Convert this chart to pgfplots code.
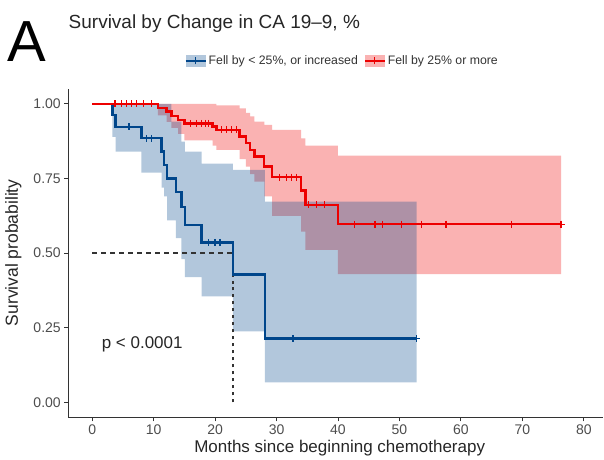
\documentclass[border=0pt]{standalone}
\usepackage{fontspec}
\setmainfont{Liberation Sans}
\usepackage{pgfplots}
\pgfplotsset{compat=1.18}
\usepgfplotslibrary{fillbetween}
\definecolor{kmred}{HTML}{ED0000}
\definecolor{kmblue}{HTML}{00468B}
\definecolor{axgray}{HTML}{4D4D4D}
\begin{document}
\begin{tikzpicture}
\path (-68.3pt,-42.3pt) rectangle (535.7pt,417.7pt);
\begin{axis}[
  at={(0pt,0pt)}, anchor=south west,
  width=535.7pt, height=328.6pt, scale only axis,
  xmin=-3.9, xmax=83.2, ymin=-0.05, ymax=1.05,
  axis x line*=bottom, axis y line*=left,
  axis line style={black!80, line width=1.1pt, -},
  xtick={0,10,...,80}, ytick={0,0.25,0.5,0.75,1},
  yticklabels={0.00,0.25,0.50,0.75,1.00},
  tick align=outside, major tick length=4pt,
  tick style={black!80, line width=0.9pt},
  ticklabel style={font=\fontsize{14}{16}\selectfont, text=axgray},
  /pgf/number format/assume math mode=true,
  legend style={at={(0.512,1.0855)}, anchor=center, draw=none, fill=none,
    font=\fontsize{12.3}{14}\selectfont, text=black!80,
    /tikz/every even column/.append style={column sep=4pt}},
  legend columns=2, legend cell align=left,
]
\addlegendimage{legend image code/.code={
  \path[fill=kmblue, fill opacity=0.3, draw=none] (0pt,-6pt) rectangle (20pt,6pt);
  \path[draw=kmblue, line width=2pt] (0pt,0pt) -- (20pt,0pt);
  \path[draw=kmblue, line width=1.2pt] (10pt,-3.5pt) -- (10pt,3.5pt);}}
\addlegendentry{Fell by < 25\%, or increased}
\addlegendimage{legend image code/.code={
  \path[fill=kmred, fill opacity=0.3, draw=none] (0pt,-6pt) rectangle (20pt,6pt);
  \path[draw=kmred, line width=2pt] (0pt,0pt) -- (20pt,0pt);
  \path[draw=kmred, line width=1.2pt] (10pt,-3.5pt) -- (10pt,3.5pt);}}
\addlegendentry{Fell by 25\% or more}

% red confidence band
\addplot[name path=ru, const plot, draw=none, forget plot] coordinates {
(0,1) (20.2,0.995) (24.0,0.985) (25.0,0.97) (25.7,0.958) (26.4,0.941) (28.0,0.93)
(29.3,0.913) (34.0,0.885) (34.7,0.860) (40.0,0.827) (76.3,0.827)};
\addplot[name path=rl, const plot, draw=none, forget plot] coordinates {
(0,1) (10.7,0.962) (12.1,0.94) (12.9,0.92) (14.0,0.90) (15.0,0.878) (19.6,0.86)
(20.2,0.846) (24.0,0.815) (25.0,0.79) (25.7,0.765) (26.4,0.74) (28.0,0.69)
(29.3,0.625) (34.0,0.572) (34.7,0.511) (40.0,0.43) (76.3,0.43)};
\addplot[kmred, fill opacity=0.3, draw=none, forget plot] fill between[of=ru and rl];

% blue confidence band
\addplot[name path=bu, const plot, draw=none, forget plot] coordinates {
(0,1) (12.9,0.941) (14.5,0.874) (15.1,0.84) (17.8,0.80) (22.9,0.779) (28.1,0.673) (52.8,0.673)};
\addplot[name path=bl, const plot, draw=none, forget plot] coordinates {
(0,1) (3.3,0.89) (3.8,0.84) (8.0,0.77) (11.3,0.72) (11.7,0.69) (12.2,0.61) (13.6,0.55)
(14.5,0.48) (15.1,0.42) (17.8,0.355) (22.9,0.238) (28.1,0.067) (52.8,0.067)};
\addplot[kmblue, fill opacity=0.3, draw=none, forget plot] fill between[of=bu and bl];

% median lines
\addplot[black!80, line width=1.4pt, dash pattern=on 5pt off 4pt, forget plot] coordinates {(0,0.5) (22.9,0.5)};
\addplot[black!80, line width=1.4pt, dash pattern=on 3pt off 4pt, forget plot] coordinates {(22.9,0) (22.9,0.5)};

% blue curve
\addplot[kmblue, line width=2.4pt, const plot, forget plot] coordinates {
(0,1) (3.3,0.962) (3.8,0.923) (8.0,0.885) (11.3,0.840) (11.7,0.795) (12.2,0.750)
(13.6,0.705) (14.5,0.655) (15.1,0.595) (17.8,0.536) (22.9,0.428) (28.1,0.214) (52.8,0.214)};
\addplot[kmblue, only marks, mark=+, mark size=3.5pt, line width=1.3pt, forget plot] coordinates {
(6.0,0.923) (8.8,0.885) (9.7,0.885) (18.9,0.536) (20.0,0.536) (20.8,0.536) (32.7,0.214) (52.8,0.214)};

% red curve
\addplot[kmred, line width=2.4pt, const plot, forget plot] coordinates {
(0,1) (10.7,0.987) (12.1,0.974) (12.9,0.960) (14.0,0.946) (15.0,0.935) (19.6,0.924)
(20.2,0.913) (24.0,0.891) (25.0,0.869) (25.7,0.846) (26.4,0.824) (28.0,0.790)
(29.3,0.755) (34.0,0.710) (34.7,0.662) (40.0,0.597) (76.3,0.597)};
\addplot[kmred, only marks, mark=+, mark size=3.5pt, line width=1.3pt, forget plot] coordinates {
(3.7,1) (4.8,1) (5.6,1) (6.4,1) (7.2,1) (8.3,1) (9.7,1)
(16.0,0.935) (17.0,0.935) (17.8,0.935) (18.4,0.935) (18.9,0.935)
(21.0,0.913) (21.9,0.913) (22.7,0.913) (23.5,0.913)
(30.5,0.755) (31.6,0.755) (32.4,0.755) (33.2,0.755)
(35.2,0.662) (36.5,0.662) (37.8,0.662)
(42.7,0.597) (46.0,0.597) (47.2,0.597) (50.3,0.597) (53.6,0.597) (57.6,0.597) (68.2,0.597) (76.3,0.597)};
\end{axis}
\node[anchor=base west, inner sep=0, font=\fontsize{58}{58}\selectfont] at (-60.6pt,355.7pt) {A};
\node[anchor=base west, inner sep=0, font=\fontsize{19}{22}\selectfont, text=black!85] at (0.3pt,388.7pt) {Survival by Change in CA 19–9, \%};
\node[anchor=base, inner sep=0, rotate=90, font=\fontsize{17.5}{20}\selectfont, text=black!85] at (-50.3pt,164.7pt) {Survival probability};
\node[anchor=base, inner sep=0, font=\fontsize{17}{20}\selectfont, text=black!85] at (271.7pt,-34.8pt) {Months since beginning chemotherapy};
\node[anchor=base west, inner sep=0, font=\fontsize{17}{20}\selectfont, text=black!85] at (33.4pt,68.4pt) {p < 0.0001};
\end{tikzpicture}
\end{document}
